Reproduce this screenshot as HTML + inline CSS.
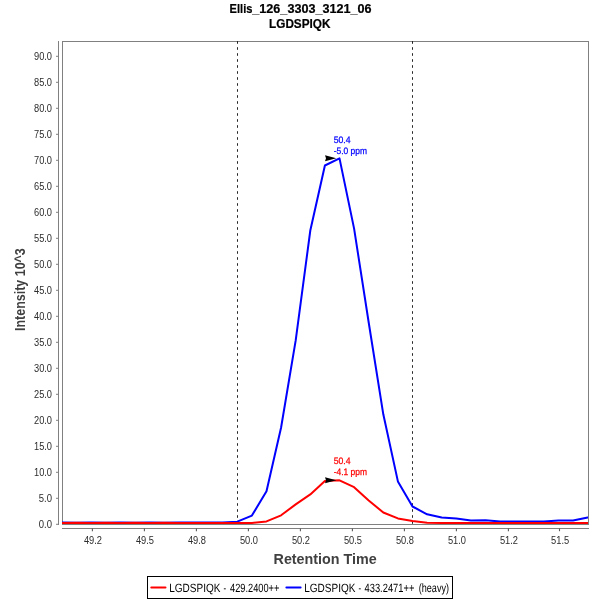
<!DOCTYPE html>
<html><head><meta charset="utf-8"><title>Chromatogram</title>
<style>html,body{margin:0;padding:0;background:#fff;overflow:hidden}svg{display:block}text{font-family:"Liberation Sans",Arial,sans-serif}.g{text-rendering:geometricPrecision}</style></head><body>
<svg width="600" height="600" viewBox="0 0 600 600">
<rect width="600" height="600" fill="#fff"/>
<text y="13.3" font-size="12" font-weight="bold" fill="#000" stroke="#000" stroke-width="0.2"><tspan x="229.6" textLength="22.8" lengthAdjust="spacingAndGlyphs">Ellis</tspan><tspan x="252.3" textLength="119.3" lengthAdjust="spacingAndGlyphs">_126_3303_3121_06</tspan></text>
<text x="299.75" y="28" font-size="12" font-weight="bold" text-anchor="middle" fill="#000" stroke="#000" stroke-width="0.2" textLength="61.3" lengthAdjust="spacingAndGlyphs">LGDSPIQK</text>
<line x1="237.5" y1="41.2" x2="237.5" y2="524" stroke="#000" stroke-width="0.85" stroke-dasharray="2.6,3.4"/>
<line x1="412.5" y1="41.2" x2="412.5" y2="524" stroke="#000" stroke-width="0.85" stroke-dasharray="2.6,3.4"/>
<line x1="58.5" y1="41" x2="58.5" y2="525" stroke="#808080"/>
<line x1="62" y1="528.5" x2="589" y2="528.5" stroke="#808080"/>
<line x1="56" y1="524.3" x2="58.5" y2="524.3" stroke="#808080"/>
<text x="52" y="527.8" font-size="10" text-anchor="end" fill="#2c2c2c" textLength="13.2" lengthAdjust="spacingAndGlyphs">0.0</text>
<line x1="56" y1="498.3" x2="58.5" y2="498.3" stroke="#808080"/>
<text x="52" y="501.8" font-size="10" text-anchor="end" fill="#2c2c2c" textLength="13.2" lengthAdjust="spacingAndGlyphs">5.0</text>
<line x1="56" y1="472.3" x2="58.5" y2="472.3" stroke="#808080"/>
<text x="52" y="475.8" font-size="10" text-anchor="end" fill="#2c2c2c" textLength="18" lengthAdjust="spacingAndGlyphs">10.0</text>
<line x1="56" y1="446.3" x2="58.5" y2="446.3" stroke="#808080"/>
<text x="52" y="449.8" font-size="10" text-anchor="end" fill="#2c2c2c" textLength="18" lengthAdjust="spacingAndGlyphs">15.0</text>
<line x1="56" y1="420.3" x2="58.5" y2="420.3" stroke="#808080"/>
<text x="52" y="423.8" font-size="10" text-anchor="end" fill="#2c2c2c" textLength="18" lengthAdjust="spacingAndGlyphs">20.0</text>
<line x1="56" y1="394.3" x2="58.5" y2="394.3" stroke="#808080"/>
<text x="52" y="397.8" font-size="10" text-anchor="end" fill="#2c2c2c" textLength="18" lengthAdjust="spacingAndGlyphs">25.0</text>
<line x1="56" y1="368.3" x2="58.5" y2="368.3" stroke="#808080"/>
<text x="52" y="371.8" font-size="10" text-anchor="end" fill="#2c2c2c" textLength="18" lengthAdjust="spacingAndGlyphs">30.0</text>
<line x1="56" y1="342.3" x2="58.5" y2="342.3" stroke="#808080"/>
<text x="52" y="345.8" font-size="10" text-anchor="end" fill="#2c2c2c" textLength="18" lengthAdjust="spacingAndGlyphs">35.0</text>
<line x1="56" y1="316.3" x2="58.5" y2="316.3" stroke="#808080"/>
<text x="52" y="319.8" font-size="10" text-anchor="end" fill="#2c2c2c" textLength="18" lengthAdjust="spacingAndGlyphs">40.0</text>
<line x1="56" y1="290.3" x2="58.5" y2="290.3" stroke="#808080"/>
<text x="52" y="293.8" font-size="10" text-anchor="end" fill="#2c2c2c" textLength="18" lengthAdjust="spacingAndGlyphs">45.0</text>
<line x1="56" y1="264.3" x2="58.5" y2="264.3" stroke="#808080"/>
<text x="52" y="267.8" font-size="10" text-anchor="end" fill="#2c2c2c" textLength="18" lengthAdjust="spacingAndGlyphs">50.0</text>
<line x1="56" y1="238.3" x2="58.5" y2="238.3" stroke="#808080"/>
<text x="52" y="241.8" font-size="10" text-anchor="end" fill="#2c2c2c" textLength="18" lengthAdjust="spacingAndGlyphs">55.0</text>
<line x1="56" y1="212.3" x2="58.5" y2="212.3" stroke="#808080"/>
<text x="52" y="215.8" font-size="10" text-anchor="end" fill="#2c2c2c" textLength="18" lengthAdjust="spacingAndGlyphs">60.0</text>
<line x1="56" y1="186.3" x2="58.5" y2="186.3" stroke="#808080"/>
<text x="52" y="189.8" font-size="10" text-anchor="end" fill="#2c2c2c" textLength="18" lengthAdjust="spacingAndGlyphs">65.0</text>
<line x1="56" y1="160.3" x2="58.5" y2="160.3" stroke="#808080"/>
<text x="52" y="163.8" font-size="10" text-anchor="end" fill="#2c2c2c" textLength="18" lengthAdjust="spacingAndGlyphs">70.0</text>
<line x1="56" y1="134.3" x2="58.5" y2="134.3" stroke="#808080"/>
<text x="52" y="137.8" font-size="10" text-anchor="end" fill="#2c2c2c" textLength="18" lengthAdjust="spacingAndGlyphs">75.0</text>
<line x1="56" y1="108.3" x2="58.5" y2="108.3" stroke="#808080"/>
<text x="52" y="111.8" font-size="10" text-anchor="end" fill="#2c2c2c" textLength="18" lengthAdjust="spacingAndGlyphs">80.0</text>
<line x1="56" y1="82.3" x2="58.5" y2="82.3" stroke="#808080"/>
<text x="52" y="85.8" font-size="10" text-anchor="end" fill="#2c2c2c" textLength="18" lengthAdjust="spacingAndGlyphs">85.0</text>
<line x1="56" y1="56.3" x2="58.5" y2="56.3" stroke="#808080"/>
<text x="52" y="59.8" font-size="10" text-anchor="end" fill="#2c2c2c" textLength="18" lengthAdjust="spacingAndGlyphs">90.0</text>
<line x1="92.4" y1="528.5" x2="92.4" y2="531.2" stroke="#5a5a5a" stroke-width="1.1"/>
<text x="93.0" y="544.2" font-size="10" text-anchor="middle" fill="#2c2c2c" textLength="18.1" lengthAdjust="spacingAndGlyphs">49.2</text>
<line x1="144.4" y1="528.5" x2="144.4" y2="531.2" stroke="#5a5a5a" stroke-width="1.1"/>
<text x="145.0" y="544.2" font-size="10" text-anchor="middle" fill="#2c2c2c" textLength="18.1" lengthAdjust="spacingAndGlyphs">49.5</text>
<line x1="196.4" y1="528.5" x2="196.4" y2="531.2" stroke="#5a5a5a" stroke-width="1.1"/>
<text x="197.0" y="544.2" font-size="10" text-anchor="middle" fill="#2c2c2c" textLength="18.1" lengthAdjust="spacingAndGlyphs">49.8</text>
<line x1="248.4" y1="528.5" x2="248.4" y2="531.2" stroke="#5a5a5a" stroke-width="1.1"/>
<text x="249.0" y="544.2" font-size="10" text-anchor="middle" fill="#2c2c2c" textLength="18.1" lengthAdjust="spacingAndGlyphs">50.0</text>
<line x1="300.4" y1="528.5" x2="300.4" y2="531.2" stroke="#5a5a5a" stroke-width="1.1"/>
<text x="301.0" y="544.2" font-size="10" text-anchor="middle" fill="#2c2c2c" textLength="18.1" lengthAdjust="spacingAndGlyphs">50.2</text>
<line x1="352.4" y1="528.5" x2="352.4" y2="531.2" stroke="#5a5a5a" stroke-width="1.1"/>
<text x="353.0" y="544.2" font-size="10" text-anchor="middle" fill="#2c2c2c" textLength="18.1" lengthAdjust="spacingAndGlyphs">50.5</text>
<line x1="404.4" y1="528.5" x2="404.4" y2="531.2" stroke="#5a5a5a" stroke-width="1.1"/>
<text x="405.0" y="544.2" font-size="10" text-anchor="middle" fill="#2c2c2c" textLength="18.1" lengthAdjust="spacingAndGlyphs">50.8</text>
<line x1="456.4" y1="528.5" x2="456.4" y2="531.2" stroke="#5a5a5a" stroke-width="1.1"/>
<text x="457.0" y="544.2" font-size="10" text-anchor="middle" fill="#2c2c2c" textLength="18.1" lengthAdjust="spacingAndGlyphs">51.0</text>
<line x1="508.4" y1="528.5" x2="508.4" y2="531.2" stroke="#5a5a5a" stroke-width="1.1"/>
<text x="509.0" y="544.2" font-size="10" text-anchor="middle" fill="#2c2c2c" textLength="18.1" lengthAdjust="spacingAndGlyphs">51.2</text>
<line x1="559.5" y1="528.5" x2="559.5" y2="531.2" stroke="#5a5a5a" stroke-width="1.1"/>
<text x="560.1" y="544.2" font-size="10" text-anchor="middle" fill="#2c2c2c" textLength="18.1" lengthAdjust="spacingAndGlyphs">51.5</text>
<text x="325.1" y="563.8" font-size="14" font-weight="bold" text-anchor="middle" fill="#404040" textLength="103.1" lengthAdjust="spacingAndGlyphs">Retention Time</text>
<text transform="translate(25.2,289.6) rotate(-90)" font-size="14" font-weight="bold" text-anchor="middle" fill="#404040" textLength="82.8" lengthAdjust="spacingAndGlyphs">Intensity 10^3</text>
<rect x="62.5" y="41.5" width="526" height="483" fill="none" stroke="#808080" stroke-width="1"/>
<clipPath id="c"><rect x="62" y="41" width="526" height="484"/></clipPath>
<g clip-path="url(#c)" fill="none" stroke-width="2" stroke-linejoin="round" stroke-linecap="round">
<polyline points="62.1,522.6 76.7,522.7 91.3,522.6 105.9,522.7 120.5,522.6 135.1,522.7 149.7,522.6 164.3,522.7 178.9,522.6 193.5,522.6 208.1,522.6 222.7,522.6 237.3,521.7 251.9,515.6 266.5,491.2 281.1,427.5 295.7,340.4 310.3,230.5 324.9,165.5 339.5,158.4 354.1,228.6 368.7,322.5 383.3,414.3 397.9,481.4 412.5,506.5 427.1,514.3 441.7,517.6 456.3,518.4 470.9,520.5 485.5,520.3 500.1,521.4 514.7,521.5 529.3,521.5 543.9,521.5 558.5,520.6 573.1,520.6 587.7,517.5" stroke="#0000ff"/>
<polyline points="62.1,523.0 76.7,522.8 91.3,523.1 105.9,522.8 120.5,523.1 135.1,522.8 149.7,523.1 164.3,522.8 178.9,523.0 193.5,522.9 208.1,523.0 222.7,523.0 237.3,523.0 251.9,522.9 266.5,521.4 281.1,515.3 295.7,504.4 310.3,494.4 324.9,481.0 339.5,480.3 354.1,487.2 368.7,500.5 383.3,512.5 397.9,518.4 412.5,521.1 427.1,522.8 441.7,523.0 456.3,523.0 470.9,523.0 485.5,523.0 500.1,523.0 514.7,523.0 529.3,523.0 543.9,523.0 558.5,523.0 573.1,523.0 587.7,523.0" stroke="#ff0000"/>
</g>
<line x1="237.5" y1="41.2" x2="237.5" y2="42.2" stroke="#000" stroke-width="0.85"/>
<line x1="412.5" y1="41.2" x2="412.5" y2="42.2" stroke="#000" stroke-width="0.85"/>
<path d="M336.3,158.2 L325.0,155.2 L326.0,158.2 L325.0,161.2 Z" fill="#000"/>
<path d="M336.3,480.2 L325.0,477.2 L326.0,480.2 L325.0,483.2 Z" fill="#000"/>
<text class="g" font-size="9.4" fill="#0000ff" stroke="#0000ff" stroke-width="0.25"><tspan x="333.7" y="143" textLength="16.9" lengthAdjust="spacingAndGlyphs">50.4</tspan><tspan x="333.7" y="154" textLength="33.3" lengthAdjust="spacingAndGlyphs">-5.0 ppm</tspan></text>
<text class="g" font-size="9.4" fill="#ff0000" stroke="#ff0000" stroke-width="0.25"><tspan x="333.7" y="464.2" textLength="16.9" lengthAdjust="spacingAndGlyphs">50.4</tspan><tspan x="333.7" y="475.3" textLength="33.3" lengthAdjust="spacingAndGlyphs">-4.1 ppm</tspan></text>
<rect x="147.5" y="576.5" width="305" height="22" fill="#fff" stroke="#000"/>
<line x1="151.3" y1="587.5" x2="165.5" y2="587.5" stroke="#ff0000" stroke-width="2" stroke-linecap="round"/>
<line x1="286.4" y1="587.5" x2="300.6" y2="587.5" stroke="#0000ff" stroke-width="2" stroke-linecap="round"/>
<text class="g" font-size="12" fill="#000" y="591.6"><tspan x="169.2" textLength="51.2" lengthAdjust="spacingAndGlyphs">LGDSPIQK</tspan><tspan x="223.6" textLength="2.6" lengthAdjust="spacingAndGlyphs">-</tspan><tspan x="230" textLength="49.4" lengthAdjust="spacingAndGlyphs">429.2400++</tspan></text>
<text class="g" font-size="12" fill="#000" y="591.6"><tspan x="304.2" textLength="51.2" lengthAdjust="spacingAndGlyphs">LGDSPIQK</tspan><tspan x="358.6" textLength="2.6" lengthAdjust="spacingAndGlyphs">-</tspan><tspan x="364.5" textLength="49.9" lengthAdjust="spacingAndGlyphs">433.2471++</tspan><tspan x="418.7" textLength="30.3" lengthAdjust="spacingAndGlyphs">(heavy)</tspan></text>
</svg></body></html>
